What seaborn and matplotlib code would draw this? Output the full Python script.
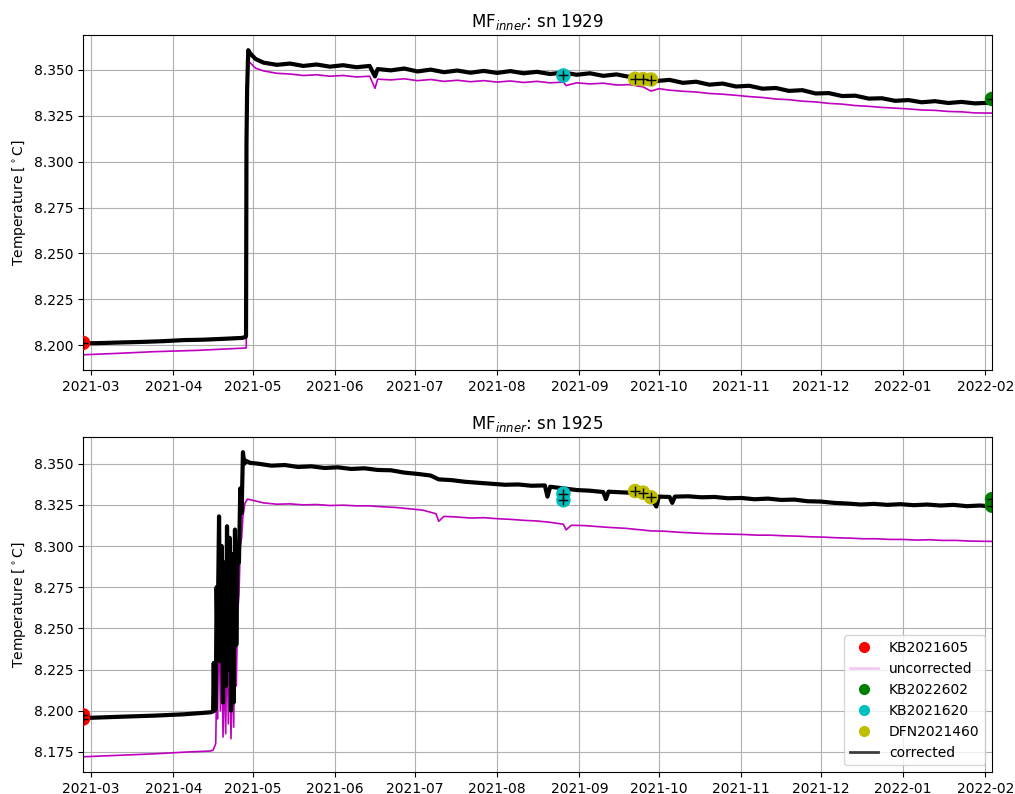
import matplotlib
matplotlib.use("Agg")
import matplotlib.pyplot as plt
import matplotlib.dates as mdates
from matplotlib.lines import Line2D
from matplotlib.ticker import MultipleLocator, FormatStrFormatter
import seaborn as sns
import pandas as pd

# ---------------- sn 1929 ----------------
sn1929_corr_time = [
    "2021-02-26", "2021-03-05", "2021-03-12", "2021-03-20", "2021-03-28",
    "2021-04-05", "2021-04-12", "2021-04-20", "2021-04-27", "2021-04-28 06:00",
    "2021-04-28 10:00", "2021-04-28 14:00", "2021-04-28 20:00", "2021-04-29 06:00",
    "2021-04-30", "2021-05-02",
    "2021-05-05", "2021-05-10", "2021-05-15", "2021-05-20", "2021-05-25", "2021-05-30",
    "2021-06-04", "2021-06-09", "2021-06-14", "2021-06-16", "2021-06-17", "2021-06-22",
    "2021-06-27", "2021-07-02", "2021-07-07", "2021-07-12", "2021-07-17", "2021-07-22",
    "2021-07-27", "2021-08-01", "2021-08-06", "2021-08-11", "2021-08-16", "2021-08-21",
    "2021-08-26", "2021-08-31", "2021-09-05", "2021-09-10", "2021-09-15", "2021-09-20",
    "2021-09-25", "2021-09-30", "2021-10-05", "2021-10-10", "2021-10-15", "2021-10-20",
    "2021-10-25", "2021-10-30", "2021-11-04", "2021-11-09", "2021-11-14", "2021-11-19",
    "2021-11-24", "2021-11-29", "2021-12-04", "2021-12-09", "2021-12-14", "2021-12-19",
    "2021-12-24", "2021-12-29", "2022-01-03", "2022-01-08", "2022-01-13", "2022-01-18",
    "2022-01-23", "2022-01-28", "2022-02-03 12:00",
]
sn1929_corr = [
    8.2010, 8.2012, 8.2015, 8.2018, 8.2022,
    8.2028, 8.2030, 8.2035, 8.2040, 8.2045,
    8.2050, 8.3100, 8.3400, 8.3608,
    8.3590, 8.3560,
    8.3540, 8.3528, 8.3535, 8.3522, 8.3530, 8.3518,
    8.3526, 8.3515, 8.3522, 8.3465, 8.3505, 8.3498,
    8.3508, 8.3492, 8.3502, 8.3488, 8.3497, 8.3485,
    8.3495, 8.3484, 8.3494, 8.3482, 8.3490, 8.3478,
    8.3486, 8.3474, 8.3482, 8.3468, 8.3476, 8.3462,
    8.3458, 8.3440, 8.3446, 8.3430, 8.3436, 8.3420,
    8.3426, 8.3410, 8.3414, 8.3398, 8.3402, 8.3386,
    8.3390, 8.3372, 8.3374, 8.3358, 8.3360, 8.3344,
    8.3346, 8.3332, 8.3336, 8.3324, 8.3330, 8.3320,
    8.3326, 8.3318, 8.3322,
]
sn1929_raw_time = [
    "2021-02-26", "2021-03-10", "2021-03-25", "2021-04-10", "2021-04-28 12:00",
    "2021-04-28 20:00", "2021-04-29 06:00", "2021-05-02",
    "2021-05-05", "2021-05-10", "2021-05-15", "2021-05-20", "2021-05-25", "2021-05-30",
    "2021-06-04", "2021-06-09", "2021-06-14", "2021-06-16", "2021-06-17", "2021-06-22",
    "2021-06-27", "2021-07-02", "2021-07-07", "2021-07-12", "2021-07-17", "2021-07-22",
    "2021-07-27", "2021-08-01", "2021-08-06", "2021-08-11", "2021-08-16", "2021-08-21",
    "2021-08-26", "2021-08-27", "2021-08-31", "2021-09-05", "2021-09-10", "2021-09-15",
    "2021-09-20", "2021-09-25", "2021-09-28", "2021-10-01", "2021-10-05", "2021-10-10",
    "2021-10-15", "2021-10-20", "2021-10-25", "2021-10-30", "2021-11-04", "2021-11-09",
    "2021-11-14", "2021-11-19", "2021-11-24", "2021-11-29", "2021-12-04", "2021-12-09",
    "2021-12-14", "2021-12-19", "2021-12-24", "2021-12-29", "2022-01-03", "2022-01-08",
    "2022-01-13", "2022-01-18", "2022-01-23", "2022-01-28", "2022-02-03 12:00",
]
sn1929_raw = [
    8.1948, 8.1955, 8.1965, 8.1972, 8.1985,
    8.3200, 8.3550, 8.3510,
    8.3495, 8.3482, 8.3478, 8.3470, 8.3474, 8.3466,
    8.3470, 8.3462, 8.3466, 8.3400, 8.3450, 8.3446,
    8.3452, 8.3442, 8.3448, 8.3438, 8.3444, 8.3436,
    8.3442, 8.3434, 8.3440, 8.3432, 8.3438, 8.3430,
    8.3434, 8.3415, 8.3430, 8.3424, 8.3428, 8.3418,
    8.3420, 8.3408, 8.3385, 8.3398, 8.3390, 8.3384,
    8.3380, 8.3372, 8.3368, 8.3362, 8.3355, 8.3350,
    8.3342, 8.3338, 8.3330, 8.3326, 8.3318, 8.3314,
    8.3306, 8.3302, 8.3296, 8.3292, 8.3288, 8.3282,
    8.3280, 8.3274, 8.3272, 8.3266, 8.3265,
]

# ---------------- sn 1925 ----------------
sn1925_corr_time = [
    "2021-02-26", "2021-03-10", "2021-03-25", "2021-04-05", "2021-04-15",
    "2021-04-16 00:00", "2021-04-16 06:00", "2021-04-16 12:00", "2021-04-17 00:00",
    "2021-04-17 08:00", "2021-04-17 16:00", "2021-04-18 06:00", "2021-04-18 18:00",
    "2021-04-19 06:00", "2021-04-19 18:00", "2021-04-20 06:00", "2021-04-20 18:00",
    "2021-04-21 06:00", "2021-04-21 18:00", "2021-04-22 06:00", "2021-04-22 18:00",
    "2021-04-23 06:00", "2021-04-23 18:00", "2021-04-24 06:00", "2021-04-24 18:00",
    "2021-04-25 06:00", "2021-04-25 18:00", "2021-04-26 06:00", "2021-04-26 18:00",
    "2021-04-27 06:00", "2021-04-27 18:00", "2021-04-28", "2021-04-30",
    "2021-05-03", "2021-05-08", "2021-05-13", "2021-05-18", "2021-05-23", "2021-05-28",
    "2021-06-02", "2021-06-07", "2021-06-12", "2021-06-17", "2021-06-22", "2021-06-27",
    "2021-07-02", "2021-07-07", "2021-07-10", "2021-07-15", "2021-07-20", "2021-07-25",
    "2021-07-30", "2021-08-04", "2021-08-09", "2021-08-14", "2021-08-19", "2021-08-20",
    "2021-08-21", "2021-08-26", "2021-08-31", "2021-09-05", "2021-09-10", "2021-09-11",
    "2021-09-12", "2021-09-17", "2021-09-22", "2021-09-27", "2021-09-30", "2021-10-01",
    "2021-10-05", "2021-10-06", "2021-10-07", "2021-10-12", "2021-10-17", "2021-10-22",
    "2021-10-27", "2021-11-01", "2021-11-06", "2021-11-11", "2021-11-16", "2021-11-21",
    "2021-11-26", "2021-12-01", "2021-12-06", "2021-12-11", "2021-12-16", "2021-12-21",
    "2021-12-26", "2021-12-31", "2022-01-05", "2022-01-10", "2022-01-15", "2022-01-20",
    "2022-01-25", "2022-01-30", "2022-02-03 12:00",
]
sn1925_corr = [
    8.1955, 8.1962, 8.1970, 8.1978, 8.1990,
    8.1995, 8.2290, 8.2000, 8.2010,
    8.2750, 8.2400, 8.3180, 8.2300,
    8.3000, 8.2050, 8.2900, 8.2150,
    8.3120, 8.2250, 8.3050, 8.2000,
    8.2950, 8.2050, 8.3100, 8.2400,
    8.3000, 8.2900, 8.3350, 8.3200,
    8.3570, 8.3500, 8.3520, 8.3505,
    8.3500, 8.3488, 8.3492, 8.3480, 8.3484, 8.3474,
    8.3478, 8.3468, 8.3472, 8.3462, 8.3460, 8.3446,
    8.3438, 8.3428, 8.3405, 8.3400, 8.3390, 8.3384,
    8.3378, 8.3372, 8.3374, 8.3366, 8.3368, 8.3300,
    8.3360, 8.3350, 8.3340, 8.3336, 8.3328, 8.3285,
    8.3330, 8.3326, 8.3322, 8.3318, 8.3240, 8.3300,
    8.3298, 8.3262, 8.3300, 8.3302, 8.3296, 8.3298,
    8.3290, 8.3292, 8.3284, 8.3288, 8.3280, 8.3282,
    8.3272, 8.3270, 8.3262, 8.3258, 8.3252, 8.3256,
    8.3250, 8.3254, 8.3248, 8.3252, 8.3246, 8.3250,
    8.3242, 8.3246, 8.3240,
]
sn1925_raw_time = [
    "2021-02-26", "2021-03-10", "2021-03-25", "2021-04-05", "2021-04-15",
    "2021-04-16 00:00", "2021-04-16 12:00", "2021-04-17 00:00", "2021-04-17 08:00",
    "2021-04-17 16:00", "2021-04-18 06:00", "2021-04-18 18:00", "2021-04-19 06:00",
    "2021-04-19 18:00", "2021-04-20 06:00", "2021-04-20 18:00", "2021-04-21 06:00",
    "2021-04-21 18:00", "2021-04-22 06:00", "2021-04-22 18:00", "2021-04-23 06:00",
    "2021-04-23 18:00", "2021-04-24 06:00", "2021-04-24 18:00", "2021-04-25 06:00",
    "2021-04-25 18:00", "2021-04-26 06:00", "2021-04-26 18:00", "2021-04-27 06:00",
    "2021-04-28", "2021-04-29",
    "2021-05-05", "2021-05-10", "2021-05-15", "2021-05-20", "2021-05-25", "2021-05-30",
    "2021-06-04", "2021-06-09", "2021-06-14", "2021-06-19", "2021-06-24", "2021-06-29",
    "2021-07-04", "2021-07-09", "2021-07-10", "2021-07-12", "2021-07-17", "2021-07-22",
    "2021-07-27", "2021-08-01", "2021-08-06", "2021-08-11", "2021-08-16", "2021-08-21",
    "2021-08-26", "2021-08-27", "2021-08-29", "2021-09-03", "2021-09-08", "2021-09-13",
    "2021-09-18", "2021-09-23", "2021-09-28", "2021-10-03", "2021-10-08", "2021-10-13",
    "2021-10-18", "2021-10-23", "2021-10-28", "2021-11-02", "2021-11-07", "2021-11-12",
    "2021-11-17", "2021-11-22", "2021-11-27", "2021-12-02", "2021-12-07", "2021-12-12",
    "2021-12-17", "2021-12-22", "2021-12-27", "2022-01-01", "2022-01-06", "2022-01-11",
    "2022-01-16", "2022-01-21", "2022-01-26", "2022-02-03 12:00",
]
sn1925_raw = [
    8.1720, 8.1728, 8.1738, 8.1748, 8.1755,
    8.1760, 8.1780, 8.1800, 8.2150,
    8.1950, 8.2620, 8.2000, 8.2400,
    8.1840, 8.2300, 8.1860, 8.2500,
    8.1920, 8.2450, 8.1830, 8.2350,
    8.1900, 8.2500, 8.2150, 8.2600,
    8.2700, 8.3000, 8.3050, 8.3180,
    8.3260, 8.3285,
    8.3262, 8.3254, 8.3256, 8.3250, 8.3252, 8.3246,
    8.3248, 8.3244, 8.3244, 8.3238, 8.3234, 8.3226,
    8.3218, 8.3196, 8.3150, 8.3180, 8.3176, 8.3170,
    8.3172, 8.3166, 8.3162, 8.3156, 8.3152, 8.3144,
    8.3132, 8.3098, 8.3126, 8.3124, 8.3118, 8.3112,
    8.3108, 8.3100, 8.3092, 8.3090, 8.3084, 8.3080,
    8.3076, 8.3074, 8.3072, 8.3070, 8.3066, 8.3066,
    8.3062, 8.3060, 8.3056, 8.3054, 8.3050, 8.3048,
    8.3044, 8.3044, 8.3040, 8.3040, 8.3036, 8.3038,
    8.3034, 8.3034, 8.3030, 8.3028,
]

# ---------------- calibration points ----------------
cal_names = ["KB2021605", "KB2022602", "KB2021620", "DFN2021460"]
cal_colors = ["r", "g", "c", "y"]

sn1929_cal_time = {
    "KB2021605": ["2021-02-26"],
    "KB2022602": ["2022-02-03 12:00"],
    "KB2021620": ["2021-08-26"],
    "DFN2021460": ["2021-09-22", "2021-09-25", "2021-09-28"],
}
sn1929_cal_value = {
    "KB2021605": [8.2013],
    "KB2022602": [8.3342],
    "KB2021620": [8.3470],
    "DFN2021460": [8.3452, 8.3450, 8.3448],
}
sn1925_cal_time = {
    "KB2021605": ["2021-02-26", "2021-02-26"],
    "KB2022602": ["2022-02-03 12:00", "2022-02-03 12:00"],
    "KB2021620": ["2021-08-26", "2021-08-26"],
    "DFN2021460": ["2021-09-22", "2021-09-25", "2021-09-28"],
}
sn1925_cal_value = {
    "KB2021605": [8.1972, 8.1952],
    "KB2022602": [8.3285, 8.3245],
    "KB2021620": [8.3318, 8.3278],
    "DFN2021460": [8.3334, 8.3324, 8.3296],
}

panels = [
    ("1929", sn1929_raw_time, sn1929_raw, sn1929_corr_time, sn1929_corr,
     sn1929_cal_time, sn1929_cal_value),
    ("1925", sn1925_raw_time, sn1925_raw, sn1925_corr_time, sn1925_corr,
     sn1925_cal_time, sn1925_cal_value),
]


def to_time(values):
    return pd.to_datetime(values, format="mixed")


x_start = pd.Timestamp("2021-02-26")
x_end = pd.Timestamp("2022-02-03 12:00")

fig = plt.figure(figsize=(10.15, 7.94), dpi=100)
ax_top = fig.add_axes([0.0818, 0.534, 0.8956, 0.422])
ax_bot = fig.add_axes([0.0818, 0.0277, 0.8956, 0.422])

for ax, (sn, rt, rv, ct, cv, kt, kv) in zip([ax_top, ax_bot], panels):
    raw = pd.DataFrame({"time": to_time(rt), "temp": rv})
    corr = pd.DataFrame({"time": to_time(ct), "temp": cv})
    sns.lineplot(data=raw, x="time", y="temp", ax=ax, color="m", lw=1.2,
                 estimator=None, sort=False, zorder=2)
    sns.lineplot(data=corr, x="time", y="temp", ax=ax, color="k", lw=3.0,
                 estimator=None, sort=False, zorder=3)
    for name, col in zip(cal_names, cal_colors):
        pts = pd.DataFrame({"time": to_time(kt[name]), "temp": kv[name]})
        sns.scatterplot(data=pts, x="time", y="temp", ax=ax, color=col, s=110,
                        edgecolor="none", zorder=4)
        sns.scatterplot(data=pts, x="time", y="temp", ax=ax, color="k",
                        marker="+", s=60, linewidth=1.0, zorder=5)

    ax.set_xlim(x_start, x_end)
    ax.xaxis.set_major_locator(mdates.MonthLocator())
    ax.xaxis.set_major_formatter(mdates.DateFormatter("%Y-%m"))
    ax.yaxis.set_major_locator(MultipleLocator(0.025))
    ax.yaxis.set_major_formatter(FormatStrFormatter("%.3f"))
    ax.grid(True, color="#b0b0b0", lw=0.8)
    ax.set_axisbelow(True)
    ax.set_xlabel("")
    ax.set_ylabel(r"Temperature [$^\circ$C]")
    ax.set_title(r"MF$_{inner}$: sn " + sn, fontsize=12)

handles = [
    Line2D([], [], ls="none", marker="o", color="r", markersize=7),
    Line2D([], [], color="m", alpha=0.2, lw=2),
    Line2D([], [], ls="none", marker="o", color="g", markersize=7),
    Line2D([], [], ls="none", marker="o", color="c", markersize=7),
    Line2D([], [], ls="none", marker="o", color="y", markersize=7),
    Line2D([], [], color="k", alpha=0.75, lw=2),
]
labels = ["KB2021605", "uncorrected", "KB2022602", "KB2021620", "DFN2021460",
          "corrected"]
ax_bot.legend(handles, labels, loc="lower right")

fig.savefig("out.png", dpi=100)
